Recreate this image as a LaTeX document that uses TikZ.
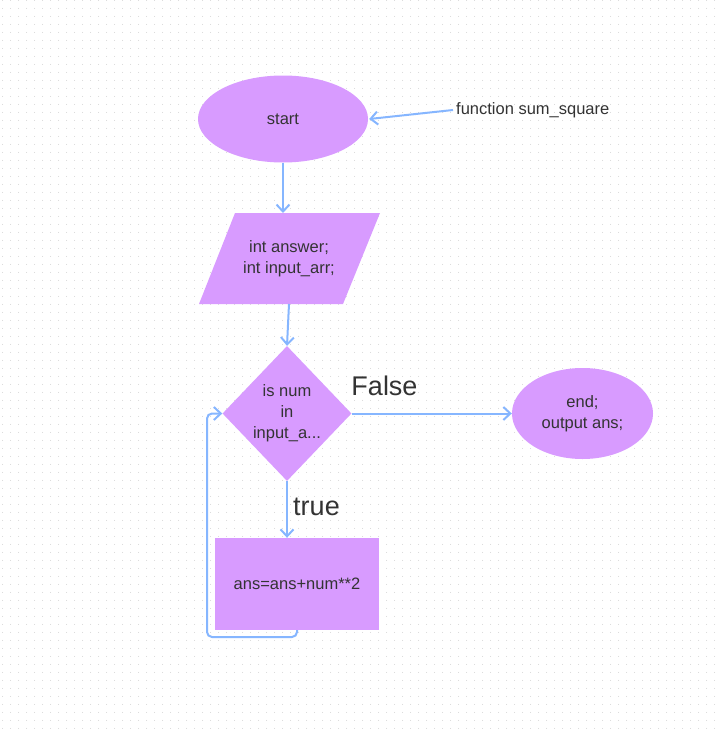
\documentclass[tikz,border=0pt]{standalone}
\usepackage{fontspec}
\setmainfont{Liberation Sans}
\usetikzlibrary{shapes.geometric,arrows.meta,patterns.meta}
\definecolor{shapefill}{HTML}{D89BFF}
\definecolor{linkblue}{HTML}{86B6FF}
\definecolor{ink}{HTML}{333333}
\definecolor{dotgray}{HTML}{D0D0D0}
\tikzdeclarepattern{name=gridDots,type=uncolored,bounding box={(0pt,0pt) and (8pt,8pt)},tile size={(8pt,8pt)},code={\fill (4pt,4pt) circle (0.55pt);}}
\tikzset{
  blk/.style={fill=shapefill,draw=none,inner sep=0pt,text=ink,font=\fontsize{16.5}{21}\selectfont,align=center},
  txt/.style={text=ink,font=\fontsize{16.5}{21}\selectfont,align=center,inner sep=0pt},
  bigtxt/.style={text=ink,font=\fontsize{27}{32}\selectfont,inner sep=0pt},
  link/.style={draw=linkblue,line width=2pt,-{Straight Barb[length=7pt,width=13pt,line width=2pt]}}
}
\begin{document}
\begin{tikzpicture}[x=1pt,y=-1pt]
\useasboundingbox (0,0) rectangle (717,731);
\fill[white] (0,0) rectangle (717,731);
\fill[pattern=gridDots,pattern color=dotgray] (0,0) rectangle (717,731);
% start
\node[blk,ellipse,minimum width=170pt,minimum height=87pt] (start) at (283,119) {start};
\node[txt,anchor=west] (fn) at (456,110) {function sum\_square};
% parallelogram
\fill[shapefill] (235,213) -- (380,213) -- (343,304) -- (199,304) -- cycle;
\node[txt] (para) at (289,258.5) {int answer;\\int input\_arr;};
\coordinate (ptop) at (283,213);
\coordinate (pbot) at (289,304);
% decision
\node[blk,diamond,minimum width=129pt,minimum height=135pt] (dec) at (287,413.5) {};
\node[txt] (dectext) at (287,413) {is num\\in\\input\_a...};
% end
\node[blk,ellipse,minimum width=141pt,minimum height=91pt] (end) at (582.5,413.5) {end;\\output ans;};
% process
\node[blk,rectangle,minimum width=164pt,minimum height=92pt] (proc) at (297,584) {ans=ans+num**2};
\coordinate (loopstart) at (297,630);
% labels
\node[bigtxt] (falselbl) at (384.5,386) {False};
\node[bigtxt] (truelbl) at (316.5,507) {true};
% connectors
\draw[link] ([xshift=-3pt]fn.west) -- ([xshift=1pt]start.east);
\draw[link] (start.south) -- (ptop);
\draw[link] (pbot) -- (dec.north);
\draw[link] (dec.east) -- (end.west);
\draw[link] (dec.south) -- (dec.south |- proc.north);
\draw[link,rounded corners=5pt] (loopstart) -- (297,637) -- (207,637) -- (207,413.5) -- (dec.west);
\end{tikzpicture}
\end{document}
